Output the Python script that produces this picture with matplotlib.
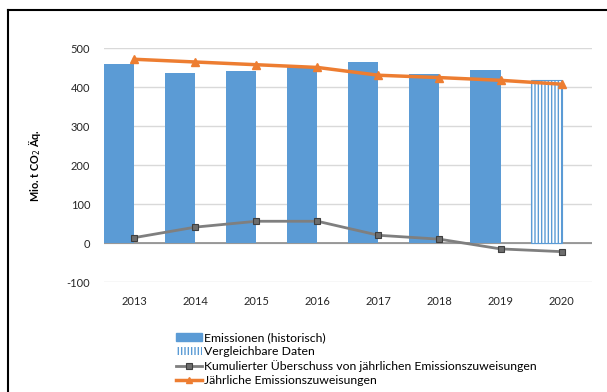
import matplotlib.pyplot as plt
import numpy as np
from matplotlib.lines import Line2D
from matplotlib.patches import Patch

plt.rcParams['font.family'] = ['Lato', 'DejaVu Sans']
plt.rcParams['hatch.linewidth'] = 1.0
plt.rcParams['axes.unicode_minus'] = False

years = ['2013', '2014', '2015', '2016', '2017', '2018', '2019', '2020']
emissions = [459, 436, 442, 453, 466, 434, 444, np.nan]
comparable = [np.nan] * 7 + [419]
surplus = [14, 41, 56, 56, 20, 10, -15, -22]
allocations = [472, 465, 458, 451, 431, 425, 418, 408]

blue = '#5B9BD5'
orange = '#ED7D31'
grey = '#7F7F7F'

fig = plt.figure(figsize=(6.07, 3.92), dpi=100)
ax = fig.add_axes([0.1713, 0.2806, 0.804, 0.596])

x = np.arange(len(years))
w = 0.5

# bars sit left of the category centre, lines on the centre
ax.bar(x, emissions, width=-w, align='edge', color=blue, zorder=2)
ax.bar(x, comparable, width=-w, align='edge', color='white',
       edgecolor=blue, hatch='|||||', linewidth=0.8, zorder=2)

ax.plot(x, surplus, color=grey, lw=2, marker='s', ms=5,
        mfc='#6d6d6d', mec='#3f3f3f', mew=0.8, zorder=3)
ax.plot(x, allocations, color=orange, lw=2.5, marker='^', ms=6,
        mfc=orange, mec=orange, zorder=4)

ax.set_xlim(-0.5, len(years) - 0.5)
ax.set_ylim(-100, 500)
ax.set_yticks(np.arange(-100, 501, 100))
ax.set_xticks(x)
ax.set_xticklabels(years)
ax.tick_params(axis='both', length=0, labelsize=8, colors='#262626')
ax.tick_params(axis='x', pad=10)
ax.tick_params(axis='y', pad=10)

ax.grid(axis='y', color='#D9D9D9', lw=1, zorder=0)
ax.set_axisbelow(True)
ax.axhline(0, color='#8c8c8c', lw=1.2, zorder=1)
for s in ax.spines.values():
    s.set_visible(False)

ax.set_ylabel('Mio. t CO$_2$ Äq.', fontsize=7.8, fontweight='bold', labelpad=17)

handles = [
    Patch(facecolor=blue, edgecolor=blue),
    Patch(facecolor='white', edgecolor=blue, hatch='|||||', linewidth=0),
    Line2D([], [], color=grey, lw=2, marker='s', ms=5,
           mfc='#6d6d6d', mec='#3f3f3f', mew=0.8),
    Line2D([], [], color=orange, lw=2.5, marker='^', ms=5, mfc=orange, mec=orange),
]
labels = [
    'Emissionen (historisch)',
    'Vergleichbare Daten',
    'Kumulierter Überschuss von jährlichen Emissionszuweisungen',
    'Jährliche Emissionszuweisungen',
]
fig.legend(handles, labels, loc='upper left', bbox_to_anchor=(0.29, 0.153),
           frameon=False, fontsize=8.8, handlelength=2.1, handleheight=0.6,
           handletextpad=0.2, labelspacing=0.25, borderpad=0, borderaxespad=0)

# outer frame: top and left edges only
fig.add_artist(Line2D([8 / 607, 8 / 607], [0, 1 - 10 / 392], color='black',
                      lw=1.5, transform=fig.transFigure))
fig.add_artist(Line2D([8 / 607, 1], [1 - 10 / 392, 1 - 10 / 392], color='black',
                      lw=1.5, transform=fig.transFigure))

fig.savefig('out.png', dpi=100)
